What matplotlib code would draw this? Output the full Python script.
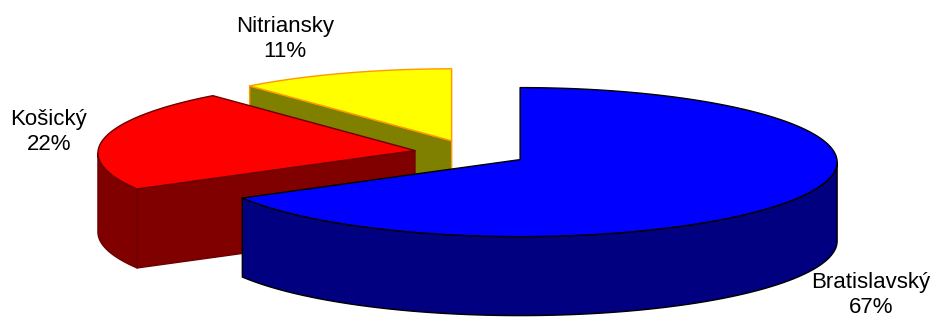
import numpy as np
import matplotlib.pyplot as plt
from matplotlib.patches import Polygon

categories = ['Bratislavský', 'Košický', 'Nitriansky']
values = [67, 22, 11]
top_colors = ['#0000FF', '#FF0000', '#FFFF00']
side_colors = ['#000080', '#800000', '#808000']
edge_colors = ['#000000', '#6A0000', '#FF9900']
label_pos = [(871, 295), (49, 132), (285, 39)]

# layout (pixels)
cx, cy = 471, 153
rx = 317
ry_back, ry_front = 72, 77
depth = 79
explode = 0.18

plt.rcParams['font.family'] = ['Liberation Sans', 'DejaVu Sans']
fig = plt.figure(figsize=(9.34, 3.18), dpi=100)
ax = fig.add_axes([0, 0, 1, 1])
ax.set_xlim(0, 934)
ax.set_ylim(318, 0)
ax.axis('off')

ry_mean = (ry_back + ry_front) / 2.0
ry_shift = (ry_front - ry_back) / 2.0

total = float(sum(values))
start = 90.0
slices = []
for v in values:
    sweep = 360.0 * v / total
    slices.append((start - sweep, start))
    start -= sweep


def rim(ox, oy, angs, dz=0.0):
    r = np.radians(np.atleast_1d(angs))
    return np.column_stack([ox + rx * np.cos(r), oy + ry_shift - ry_mean * np.sin(r) + dz])


items = []
for i, (a1, a2) in enumerate(slices):
    mid = np.radians((a1 + a2) / 2)
    ox = cx + explode * rx * np.cos(mid)
    oy = cy - explode * ry_back * np.sin(mid)
    items.append((oy, i, a1, a2, ox))
items.sort()

for oy, i, a1, a2, ox in items:
    ec = edge_colors[i]
    lw = 1.0
    # radial walls facing the viewer
    for edge, normal in ((a1, a1 - 90), (a2, a2 + 90)):
        if np.sin(np.radians(normal)) < -1e-6:
            p = rim(ox, oy, edge)[0]
            quad = [(ox, oy), tuple(p), (p[0], p[1] + depth), (ox, oy + depth)]
            ax.add_patch(Polygon(quad, closed=True, fc=side_colors[i], ec=ec, lw=lw, joinstyle='round'))
    # curved front wall
    for lo, hi in ((-180, 0), (180, 360)):
        s, e = max(a1, lo), min(a2, hi)
        if e > s:
            angs = np.linspace(s, e, 200)
            top = rim(ox, oy, angs)
            bot = rim(ox, oy, angs[::-1], depth)
            ax.add_patch(Polygon(np.vstack([top, bot]), closed=True, fc=side_colors[i], ec=ec, lw=lw, joinstyle='round'))
    # top face
    angs = np.linspace(a1, a2, 300)
    pts = np.vstack([[ox, oy], rim(ox, oy, angs)])
    ax.add_patch(Polygon(pts, closed=True, fc=top_colors[i], ec=ec, lw=lw, joinstyle='round'))

for i, name in enumerate(categories):
    pct = 100.0 * values[i] / total
    ax.text(label_pos[i][0], label_pos[i][1], f'{name}\n{pct:.0f}%', ha='center', va='center',
            fontsize=16, linespacing=1.3, color='#000000')

fig.savefig('out.png', dpi=100)
